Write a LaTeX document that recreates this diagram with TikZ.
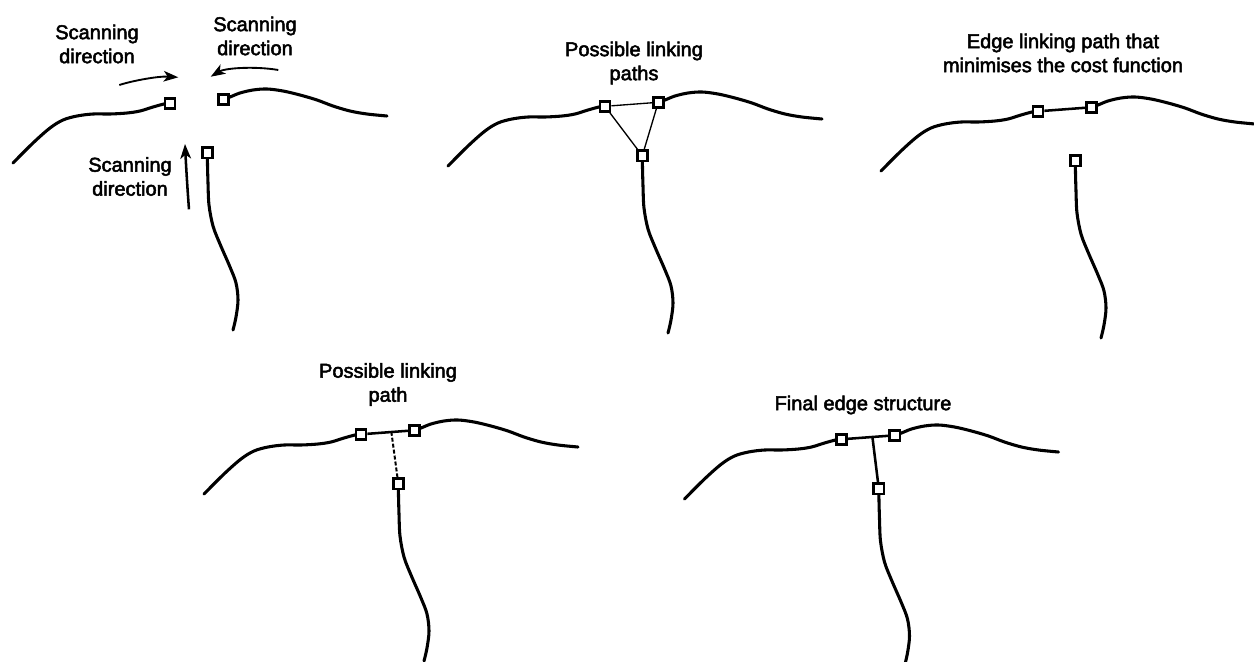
\documentclass[tikz,border=0pt]{standalone}
\usepackage{fontspec}
\setmainfont{Liberation Sans}
\newfontfamily\lblfont{Liberation Sans}[FakeBold=2.5]
\usetikzlibrary{arrows.meta,calc}
\tikzset{
  curve/.style={line width=2.3pt, line cap=round, line join=round},
  sq/.style={draw, fill=white, line width=1.9pt, minimum size=7.6pt, inner sep=0pt, shape=rectangle},
  thinlink/.style={line width=1pt},
  link/.style={line width=1.9pt},
  dashlink/.style={line width=1.5pt, dash pattern=on 3pt off 1.5pt},
  scanarrow/.style={line width=1.4pt, -{Stealth[length=11pt, width=8pt, inset=3pt]}},
  lbl/.style={align=center, inner sep=0pt, font=\lblfont\fontsize{15}{18}\selectfont}
}
\newcommand{\edgeset}[3]{%
  \begin{scope}[shift={(#2,#3)}]
    \coordinate (#1pa) at (170,103.3);
    \coordinate (#1pb) at (223.3,99.3);
    \coordinate (#1pc) at (207.3,152.7);
    \draw[curve] plot[smooth, tension=0.55] coordinates {(13,163) (33,143) (50,128) (63,120) (77,116) (93,114) (110,114) (127,113) (140,111) (153,107) (164,104) (#1pa)};
    \draw[curve] plot[smooth, tension=0.55] coordinates {(#1pb) (230,97) (240,93) (253,90) (267,89) (283,91) (300,95) (317,100) (333,106) (350,111) (367,114) (387,116)};
    \draw[curve] plot[smooth, tension=0.55] coordinates {(#1pc) (207.5,165) (208,183) (209,205) (213,226) (220,244) (230,267) (236,283) (238,300) (236,317) (233,330)};
  \end{scope}
  \node[sq] (#1a) at (#1pa) {};
  \node[sq] (#1b) at (#1pb) {};
  \node[sq] (#1c) at (#1pc) {};
}
\begin{document}
\begin{tikzpicture}[x=0.75pt, y=-0.75pt]
\useasboundingbox (0,0) rectangle (1254,661);
\fill[white] (0,0) rectangle (1254,661);

% Panel 1: scanning
\edgeset{p1}{0}{0}
\node[lbl] (s1) at (97,44) {Scanning\\direction};
\node[lbl] (s2) at (255,36) {Scanning\\direction};
\node[lbl] (s3) at (130,176.5) {Scanning\\direction};
\coordinate (a1t) at (119.3,85);
\coordinate (a1h) at (178.3,77.3);
\coordinate (a2t) at (278.3,70);
\coordinate (a2h) at (210.7,76.7);
\coordinate (a3t) at (189,209.3);
\coordinate (a3h) at (185,144);
\draw[scanarrow] (a1t) .. controls (135,80) and (160,76) .. (a1h);
\draw[scanarrow] (a2t) .. controls (255,66) and (225,68) .. (a2h);
\draw[scanarrow, line width=1.9pt] (a3t) .. controls (187.5,190) and (186,165) .. (a3h);

% Panel 2: possible linking paths
\edgeset{p2}{435}{3}
\draw[thinlink] (p2a) -- (p2b);
\draw[thinlink] (p2a) -- (p2c);
\draw[thinlink] (p2b) -- (p2c);
\node[lbl] (t2) at (634,63) {Possible linking\\paths};

% Panel 3: minimal cost path
\edgeset{p3}{868}{8}
\draw[link] (p3a) -- (p3b);
\node[lbl] (t3) at (1063,53) {Edge linking path that\\minimises the cost function};

% Panel 4: possible linking path
\edgeset{p4}{191}{331}
\draw[link] (p4a) -- (p4b);
\coordinate (p4j) at ($(p4a)!0.57!(p4b)$);
\draw[dashlink] (p4c) -- (p4j);
\node[lbl] (t4) at (388,384.5) {Possible linking\\path};

% Panel 5: final edge structure
\edgeset{p5}{671.5}{336}
\draw[link] (p5a) -- (p5b);
\coordinate (p5j) at ($(p5a)!0.58!(p5b)$);
\draw[link] (p5c) -- (p5j);
\node[lbl] (t5) at (863,405) {Final edge structure};
\end{tikzpicture}
\end{document}
